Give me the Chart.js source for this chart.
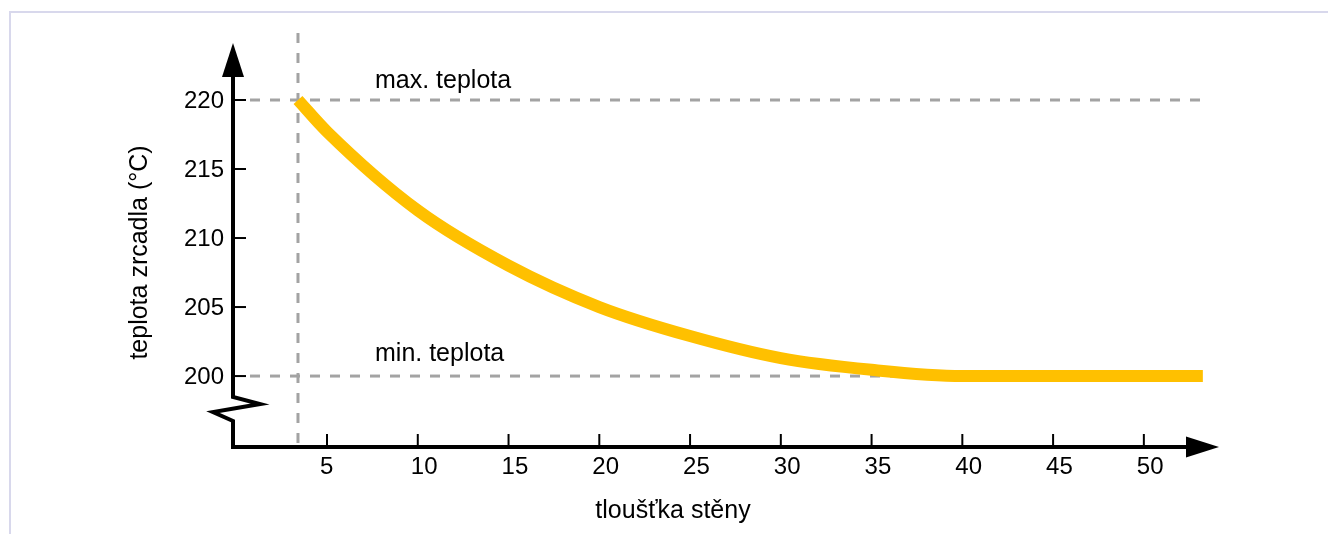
<!DOCTYPE html>
<html lang="cs">
<head>
<meta charset="utf-8">
<title>teplota zrcadla</title>
<script src="https://cdn.jsdelivr.net/npm/chart.js@4/dist/chart.umd.min.js"></script>
<style>
  html, body { margin: 0; padding: 0; background: #fff; }
  canvas { display: block; }
</style>
</head>
<body>
<canvas id="tempChart" width="1328" height="534"></canvas>
<script>
/* =====================================
   TEPLOTA ZRCADLA vs TLOUŠŤKA STĚNY
===================================== */

/* ---------- DATA ---------- */
const thickness   = [3.4, 5, 10, 15, 20, 25, 30, 35, 40, 45, 53.25];
const temperature = [220, 217.7, 212.0, 208.0, 205.0, 202.9, 201.3, 200.45, 200, 200, 200];

const xTicks = [5, 10, 15, 20, 25, 30, 35, 40, 45, 50];
const yTicks = [200, 205, 210, 215, 220];

const maxTemp = 220;
const minTemp = 200;

const labels = {
  max: "max. teplota",
  min: "min. teplota",
  xTitle: "tloušťka stěny",
  yTitle: "teplota zrcadla (°C)"
};

/* ---------- STYLE ---------- */
const TICK_FONT = '24px "Liberation Sans", Arial, Helvetica, sans-serif';
const TEXT_FONT = '25px "Liberation Sans", Arial, Helvetica, sans-serif';
const DASH_COLOR = "#a3a3a3";
const CURVE_COLOR = "#ffc000";

/* ---------- FRAME + GUIDE LINES (under the curve) ---------- */
const guidesPlugin = {
  id: "guides",
  beforeDatasetsDraw(chart) {
    const { ctx, chartArea, scales } = chart;
    const x = scales.x, y = scales.y;

    // light frame round the figure
    ctx.save();
    ctx.strokeStyle = "#d8d8ec";
    ctx.lineWidth = 2;
    ctx.beginPath();
    ctx.moveTo(10, chart.height);
    ctx.lineTo(10, 12);
    ctx.lineTo(chart.width, 12);
    ctx.stroke();
    ctx.restore();

    ctx.save();
    ctx.strokeStyle = DASH_COLOR;
    ctx.lineWidth = 3;
    ctx.setLineDash([10, 10]);

    // horizontal limits
    const xEnd = x.getPixelForValue(thickness[thickness.length - 1]);
    [maxTemp, minTemp].forEach(t => {
      const py = y.getPixelForValue(t);
      ctx.beginPath();
      ctx.lineDashOffset = -4;
      ctx.moveTo(chartArea.left + 13, py);
      ctx.lineTo(xEnd, py);
      ctx.stroke();
    });

    // vertical line at the minimal thickness
    const px = x.getPixelForValue(thickness[0]);
    ctx.beginPath();
    ctx.lineDashOffset = 0;
    ctx.moveTo(px, chartArea.top - 10);
    ctx.lineTo(px, chartArea.bottom);
    ctx.stroke();
    ctx.restore();
  }
};

/* ---------- AXES, ARROWS, TEXT ---------- */
const axesPlugin = {
  id: "axes",
  afterDatasetsDraw(chart) {
    const { ctx, chartArea, scales } = chart;
    const x = scales.x, y = scales.y;
    const L = chartArea.left, B = chartArea.bottom;
    const T = chartArea.top, R = chartArea.right;

    ctx.save();
    ctx.strokeStyle = "#000";
    ctx.fillStyle = "#000";

    // axis lines with the break on y
    ctx.lineWidth = 4;
    ctx.lineJoin = "miter";
    ctx.beginPath();
    ctx.moveTo(L, T + 30);
    ctx.lineTo(L, B - 50);
    ctx.lineTo(L + 27, B - 43);
    ctx.lineTo(L - 20, B - 35);
    ctx.lineTo(L, B - 26);
    ctx.lineTo(L, B);
    ctx.lineTo(R - 30, B);
    ctx.stroke();

    // arrow heads
    ctx.beginPath();
    ctx.moveTo(L, T);
    ctx.lineTo(L - 11, T + 34);
    ctx.lineTo(L + 11, T + 34);
    ctx.closePath();
    ctx.fill();

    ctx.beginPath();
    ctx.moveTo(R, B);
    ctx.lineTo(R - 33, B - 10.5);
    ctx.lineTo(R - 33, B + 10.5);
    ctx.closePath();
    ctx.fill();

    // ticks
    ctx.lineWidth = 2;
    yTicks.forEach(v => {
      const py = y.getPixelForValue(v);
      ctx.beginPath();
      ctx.moveTo(L, py);
      ctx.lineTo(L + 13, py);
      ctx.stroke();
    });
    xTicks.forEach(v => {
      const px = x.getPixelForValue(v);
      ctx.beginPath();
      ctx.moveTo(px, B);
      ctx.lineTo(px, B - 13);
      ctx.stroke();
    });

    // tick labels
    ctx.font = TICK_FONT;
    ctx.textAlign = "right";
    ctx.textBaseline = "middle";
    yTicks.forEach(v => {
      ctx.fillText(String(v), L - 9, y.getPixelForValue(v) + 1);
    });

    ctx.textAlign = "left";
    ctx.textBaseline = "alphabetic";
    xTicks.forEach(v => {
      ctx.fillText(String(v), x.getPixelForValue(v) - 7, B + 27);
    });

    // limit labels
    ctx.font = TEXT_FONT;
    ctx.fillText(labels.max, 375, y.getPixelForValue(maxTemp) - 12);
    ctx.fillText(labels.min, 375, y.getPixelForValue(minTemp) - 15);

    // axis titles
    ctx.textAlign = "center";
    ctx.fillText(labels.xTitle, 673, B + 71);

    ctx.save();
    ctx.translate(146.5, 252.5);
    ctx.rotate(-Math.PI / 2);
    ctx.fillText(labels.yTitle, 0, 0);
    ctx.restore();

    ctx.restore();
  }
};

/* ---------- CHART ---------- */
const ctx = document.getElementById("tempChart").getContext("2d");

new Chart(ctx, {
  type: "line",
  data: {
    datasets: [
      {
        label: labels.yTitle,
        data: thickness.map((t, i) => ({ x: t, y: temperature[i] })),
        borderColor: CURVE_COLOR,
        borderWidth: 12,
        borderCapStyle: "butt",
        pointRadius: 0,
        fill: false,
        cubicInterpolationMode: "monotone"
      }
    ]
  },
  options: {
    responsive: false,
    animation: false,
    events: [],
    layout: {
      padding: { left: 233, right: 109, top: 43, bottom: 87 }
    },
    plugins: {
      legend: { display: false },
      tooltip: { enabled: false }
    },
    scales: {
      x: { type: "linear", display: false, min: -0.18, max: 54.14 },
      y: { type: "linear", display: false, min: 194.86, max: 224.13 }
    }
  },
  plugins: [guidesPlugin, axesPlugin]
});
</script>
</body>
</html>
